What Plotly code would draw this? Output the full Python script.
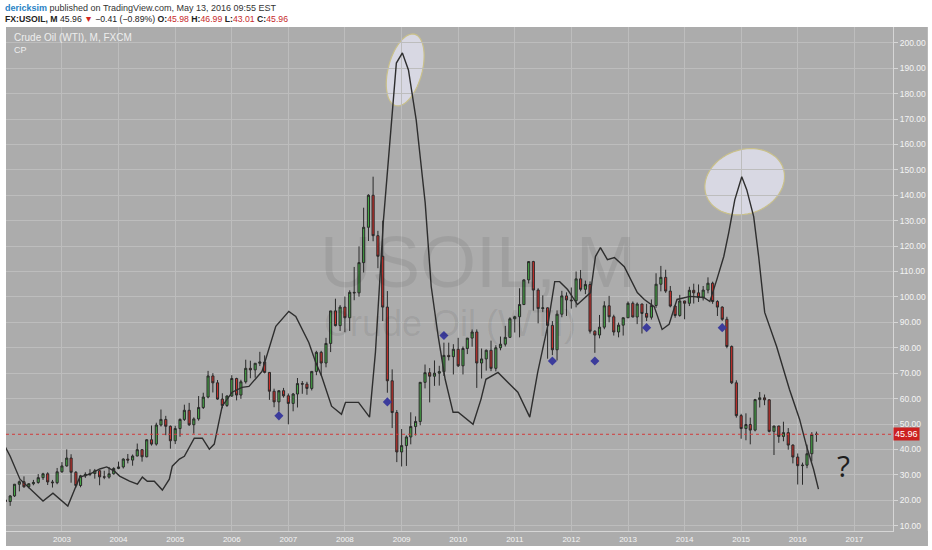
import numpy as np
import pandas as pd
import plotly.graph_objects as go

# monthly FX:USOIL candles, Jan 2002 .. May 2016
months = pd.date_range("2002-01-01", periods=173, freq="MS")

opens = [
    20.1, 19.5, 21.7, 26.3, 27.3, 25.3, 26.5, 27.0, 28.9, 30.4, 27.2, 26.9,
    31.2, 33.5, 36.6, 31.0, 25.8, 29.6, 30.2, 30.5, 31.6, 29.2, 29.1, 30.4,
    32.5, 33.1, 36.2, 35.8, 37.4, 39.9, 37.1, 43.8, 42.1, 49.6, 51.8, 49.1,
    43.4, 48.2, 51.8, 55.4, 49.7, 52.0, 56.5, 60.6, 68.9, 66.2, 59.8, 57.3,
    61.0, 67.9, 61.4, 66.6, 71.9, 71.3, 73.9, 74.4, 70.3, 62.9, 58.7, 63.1,
    61.1, 58.1, 61.8, 65.9, 65.7, 64.0, 70.7, 78.2, 74.0, 81.7, 94.5, 88.7,
    96.0, 91.8, 101.8, 101.6, 113.5, 127.4, 140.0, 124.1, 116.0, 96.0, 67.0, 54.5,
    39.0, 41.5, 44.9, 49.0, 51.0, 66.4, 70.2, 68.8, 70.0, 70.6, 77.0, 76.5,
    79.4, 72.9, 79.7, 83.8, 86.2, 74.0, 75.6, 79.0, 71.9, 80.0, 81.4, 84.1,
    91.4, 92.2, 97.0, 106.7, 113.9, 102.7, 95.4, 95.7, 88.8, 79.2, 93.2, 100.4,
    98.8, 98.5, 107.1, 103.0, 104.9, 86.5, 85.0, 88.1, 96.5, 92.2, 86.2, 88.9,
    91.8, 97.5, 92.1, 97.2, 93.5, 92.0, 96.6, 105.0, 107.7, 102.3, 96.4, 92.7,
    98.4, 97.5, 102.6, 101.6, 99.7, 102.7, 105.4, 98.2, 96.0, 91.2, 80.5, 66.2,
    53.3, 48.2, 49.8, 47.6, 59.6, 60.3, 59.5, 47.1, 49.2, 45.1, 46.6, 41.7,
    37.0, 33.6, 33.8, 38.3, 45.98,
]
highs = [
    21.0, 22.0, 26.4, 27.8, 29.4, 26.6, 28.0, 30.3, 30.8, 31.0, 28.0, 32.7,
    35.0, 40.0, 38.1, 31.5, 30.0, 31.0, 32.2, 32.3, 31.9, 31.6, 33.1, 33.0,
    35.2, 36.5, 38.2, 38.0, 42.3, 40.0, 44.0, 49.4, 50.5, 55.7, 53.2, 49.4,
    49.3, 52.2, 57.6, 58.3, 52.6, 61.0, 62.3, 70.9, 70.0, 67.3, 62.1, 61.3,
    69.2, 68.2, 67.4, 75.3, 74.9, 74.0, 78.4, 77.0, 70.4, 63.9, 62.5, 64.2,
    62.0, 62.2, 68.1, 66.9, 66.6, 70.8, 78.8, 78.8, 83.9, 94.5, 99.3, 96.8,
    100.1, 102.6, 111.8, 119.9, 135.1, 140.4, 147.3, 126.0, 130.0, 102.3, 71.5, 55.5,
    48.0, 45.5, 54.6, 53.0, 66.5, 73.4, 72.0, 75.0, 72.9, 82.0, 82.0, 81.4,
    83.9, 80.5, 83.8, 87.2, 87.2, 79.7, 79.3, 82.8, 81.0, 84.4, 88.6, 92.0,
    92.6, 103.4, 106.9, 114.0, 114.2, 103.4, 100.6, 95.9, 90.5, 94.7, 102.4, 101.8,
    103.7, 110.0, 110.6, 106.4, 106.1, 86.9, 92.9, 98.3, 100.4, 93.0, 89.9, 91.5,
    98.2, 98.2, 97.8, 97.3, 97.3, 99.0, 109.3, 112.2, 110.7, 104.3, 96.7, 100.8,
    98.5, 104.0, 105.2, 104.9, 104.3, 107.7, 106.0, 98.7, 96.3, 92.2, 80.9, 67.2,
    54.0, 54.2, 52.5, 59.9, 62.6, 61.6, 59.7, 49.3, 49.3, 50.9, 48.4, 42.0,
    38.4, 34.8, 41.9, 46.8, 46.99,
]
lows = [
    17.9, 17.8, 21.3, 23.5, 24.9, 24.7, 25.9, 26.5, 28.0, 26.0, 25.0, 26.3,
    30.8, 33.2, 26.9, 25.0, 25.1, 28.8, 29.5, 28.5, 25.9, 28.3, 28.5, 30.1,
    32.2, 32.5, 34.5, 33.6, 37.3, 35.2, 36.9, 41.5, 41.5, 49.0, 45.6, 40.3,
    42.1, 45.0, 51.2, 49.2, 46.2, 51.3, 55.9, 60.1, 62.4, 59.5, 56.2, 56.7,
    60.7, 59.3, 59.9, 65.9, 68.0, 68.2, 72.8, 69.9, 59.5, 56.6, 54.9, 60.4,
    49.9, 55.0, 56.5, 61.9, 61.5, 63.2, 69.2, 69.0, 72.3, 78.3, 88.4, 86.6,
    86.1, 86.6, 98.7, 100.1, 109.6, 122.0, 121.9, 111.3, 90.5, 62.3, 48.4, 35.0,
    33.3, 33.5, 42.0, 45.5, 49.5, 64.0, 58.5, 65.0, 65.1, 68.9, 75.0, 69.5,
    72.4, 69.5, 77.5, 80.4, 64.2, 67.9, 71.0, 70.8, 70.7, 79.0, 80.5, 84.0,
    86.0, 84.1, 96.8, 105.3, 94.6, 89.6, 94.0, 75.7, 77.1, 75.0, 92.0, 92.5,
    95.4, 95.9, 102.2, 101.1, 85.6, 78.0, 83.7, 87.3, 90.0, 84.8, 84.1, 84.8,
    91.7, 92.0, 89.3, 85.6, 90.5, 91.1, 95.7, 102.2, 101.6, 95.9, 91.8, 92.2,
    91.2, 96.4, 97.4, 98.0, 98.6, 101.4, 97.3, 92.5, 90.6, 79.8, 65.7, 52.5,
    44.2, 43.6, 42.0, 47.1, 56.5, 57.4, 46.7, 37.8, 42.6, 43.2, 39.9, 34.5,
    26.2, 26.1, 32.6, 35.3, 43.01,
]
closes = [
    19.5, 21.7, 26.3, 27.3, 25.3, 26.5, 27.0, 28.9, 30.4, 27.2, 26.9, 31.2,
    33.5, 36.6, 31.0, 25.8, 29.6, 30.2, 30.5, 31.6, 29.2, 29.1, 30.4, 32.5,
    33.1, 36.2, 35.8, 37.4, 39.9, 37.1, 43.8, 42.1, 49.6, 51.8, 49.1, 43.4,
    48.2, 51.8, 55.4, 49.7, 52.0, 56.5, 60.6, 68.9, 66.2, 59.8, 57.3, 61.0,
    67.9, 61.4, 66.6, 71.9, 71.3, 73.9, 74.4, 70.3, 62.9, 58.7, 63.1, 61.1,
    58.1, 61.8, 65.9, 65.7, 64.0, 70.7, 78.2, 74.0, 81.7, 94.5, 88.7, 96.0,
    91.8, 101.8, 101.6, 113.5, 127.4, 140.0, 124.1, 116.0, 96.0, 67.0, 54.5, 39.0,
    41.5, 44.9, 49.0, 51.0, 66.4, 70.2, 68.8, 70.0, 70.6, 77.0, 76.5, 79.4,
    72.9, 79.7, 83.8, 86.2, 74.0, 75.6, 79.0, 71.9, 80.0, 81.4, 84.1, 91.4,
    92.2, 97.0, 106.7, 113.9, 102.7, 95.4, 95.7, 88.8, 79.2, 93.2, 100.4, 98.8,
    98.5, 107.1, 103.0, 104.9, 86.5, 85.0, 88.1, 96.5, 92.2, 86.2, 88.9, 91.8,
    97.5, 92.1, 97.2, 93.5, 92.0, 96.6, 105.0, 107.7, 102.3, 96.4, 92.7, 98.4,
    97.5, 102.6, 101.6, 99.7, 102.7, 105.4, 98.2, 96.0, 91.2, 80.5, 66.2, 53.3,
    48.2, 49.8, 47.6, 59.6, 60.3, 59.5, 47.1, 49.2, 45.1, 46.6, 41.7, 37.0,
    33.6, 33.8, 38.3, 45.9, 45.96,
]

# CP indicator line (traced)
cp_dates = [
    "2002-01-01", "2002-02-01", "2002-04-05", "2002-06-09", "2002-09-01", "2002-11-04",
    "2003-02-08", "2003-03-25", "2003-04-26", "2003-06-30", "2003-09-02", "2003-10-17",
    "2003-12-07", "2004-01-08", "2004-03-12", "2004-05-02", "2004-06-03", "2004-07-05",
    "2004-08-19", "2004-10-10", "2004-11-24", "2004-12-13", "2005-01-28", "2005-03-01",
    "2005-05-04", "2005-06-25", "2005-08-09", "2005-09-10", "2005-10-31", "2006-01-03",
    "2006-03-08", "2006-04-22", "2006-07-15", "2006-10-12", "2007-01-04", "2007-02-18",
    "2007-05-13", "2007-06-27", "2007-08-04", "2007-10-07", "2007-12-10", "2008-01-05",
    "2008-03-29", "2008-06-08", "2008-07-16", "2008-09-06", "2008-10-27", "2008-11-28",
    "2009-01-06", "2009-02-14", "2009-04-05", "2009-06-02", "2009-07-11", "2009-08-25",
    "2009-10-09", "2009-11-29", "2010-01-01", "2010-04-07", "2010-05-28", "2010-06-29",
    "2010-09-15", "2011-01-21", "2011-04-08", "2011-05-29", "2011-08-01", "2011-09-16",
    "2011-10-18", "2011-12-08", "2012-02-10", "2012-05-04", "2012-06-05", "2012-07-07",
    "2012-08-21", "2012-10-05", "2012-12-08", "2013-03-02", "2013-04-16", "2013-06-19",
    "2013-08-09", "2013-09-23", "2013-11-13", "2014-02-05", "2014-05-05", "2014-06-13",
    "2014-07-28", "2014-09-11", "2014-10-13", "2014-11-21", "2015-01-05", "2015-02-06",
    "2015-03-23", "2015-04-24", "2015-06-02", "2015-08-18", "2015-11-09", "2016-01-13",
    "2016-02-27", "2016-04-12", "2016-05-14",
]
cp_values = [
    40.9, 37.3, 28.3, 24.4, 19.7, 22.8,
    17.7, 24.4, 29.1, 30.3, 32.3, 33.1,
    31.4, 29.5, 27.5, 26.3, 29.1, 27.5,
    27.5, 24.0, 28.3, 33.4, 36.2, 37.3,
    44.4, 44.4, 40.1, 42.1, 57.0, 62.5,
    64.4, 64.8, 70.7, 88.4, 94.3, 92.3,
    82.1, 74.2, 68.8, 57.0, 53.8, 58.5,
    58.5, 52.7, 78.2, 130.4, 169.7, 192.0,
    196.0, 189.3, 169.7, 137.1, 104.1, 84.5,
    67.6, 54.6, 54.6, 49.9, 59.7, 67.6,
    70.3, 62.5, 52.7, 70.3, 88.4, 106.0,
    106.0, 102.9, 97.0, 101.7, 115.9, 119.4,
    114.7, 115.5, 111.9, 101.7, 99.0, 96.2,
    87.2, 89.2, 99.0, 100.2, 99.8, 98.2,
    106.8, 115.9, 125.3, 138.2, 147.3, 142.2,
    131.6, 115.9, 93.9, 80.5, 63.6, 51.9,
    41.3, 32.3, 24.4,
]

# blue diamond signals
sig_dates = ["2006-11-01", "2008-10-01", "2009-10-01", "2011-09-01",
             "2012-06-01", "2013-05-01", "2014-09-01"]
sig_values = [53.2, 58.7, 84.8, 74.8, 74.8, 87.9, 87.9]

last_close = closes[-1]

# plot box in pixels (932x550 page)
L, R, T, B = 6, 35, 27, 18
PW, PH = 932 - L - R, 550 - T - B


def ellipse_path(cx, cy, a, b, deg):
    # pixel ellipse -> paper-coordinate svg path
    th = np.radians(deg)
    t = np.linspace(0, 2 * np.pi, 72)
    x = a * np.cos(t)
    y = b * np.sin(t)
    px = cx + x * np.cos(th) - y * np.sin(th)
    py = cy + x * np.sin(th) + y * np.cos(th)
    xp = (px - L) / PW
    yp = 1 - (py - T) / PH
    pts = [f"{u:.4f},{v:.4f}" for u, v in zip(xp, yp)]
    return "M " + " L ".join(pts) + " Z"


fig = go.Figure()
fig.add_trace(go.Candlestick(
    x=months, open=opens, high=highs, low=lows, close=closes,
    increasing=dict(fillcolor="#46a546", line=dict(color="#2a2a2a", width=1)),
    decreasing=dict(fillcolor="#c9302b", line=dict(color="#2a2a2a", width=1)),
    whiskerwidth=0, name="USOIL", hoverinfo="skip"))
fig.add_trace(go.Scatter(x=cp_dates, y=cp_values, mode="lines", name="CP",
                         line=dict(color="#2e2e2e", width=1.4)))
fig.add_trace(go.Scatter(x=sig_dates, y=sig_values, mode="markers", name="sig",
                         marker=dict(symbol="diamond", size=7, color="#3c3c9c")))

shapes = [
    # gray axis strips (right price scale, bottom time scale)
    dict(type="rect", xref="paper", yref="paper", x0=1, x1=1 + R / PW,
         y0=-15 / PH, y1=1, fillcolor="#acacac", line=dict(width=0), layer="below"),
    dict(type="rect", xref="paper", yref="paper", x0=0, x1=1 + R / PW,
         y0=-15 / PH, y1=0, fillcolor="#acacac", line=dict(width=0), layer="below"),
    # highlight ellipses
    dict(type="path", xref="paper", yref="paper", path=ellipse_path(407, 70, 17, 37, 15),
         fillcolor="rgba(218,218,230,0.95)", line=dict(color="#c9c08a", width=1.2), layer="below"),
    dict(type="path", xref="paper", yref="paper", path=ellipse_path(748, 182, 41, 32, -20),
         fillcolor="rgba(218,218,230,0.95)", line=dict(color="#c9c08a", width=1.2), layer="below"),
    # last price line
    dict(type="line", xref="paper", yref="y", x0=0, x1=1, y0=last_close, y1=last_close,
         line=dict(color="#d23a3a", width=1, dash="dot")),
]

annotations = [
    dict(text="USOIL, M", x=0.532, y=1 - (262 - T) / PH, xref="paper", yref="paper",
         showarrow=False, yanchor="middle",
         font=dict(family="Liberation Sans", size=72, color="rgba(0,0,0,0.075)")),
    dict(text="Crude Oil (WTI)", x=0.5, y=1 - (324 - T) / PH, xref="paper", yref="paper",
         showarrow=False, yanchor="middle",
         font=dict(family="Liberation Sans", size=36, color="rgba(0,0,0,0.075)")),
    dict(text="<span style='color:#2a82c5'><b>dericksim</b></span> published on TradingView.com, May 13, 2016 09:55 EST",
         x=-3 / PW, y=1 + 19 / PH, xref="paper", yref="paper", xanchor="left", yanchor="middle",
         showarrow=False, font=dict(family="Liberation Sans", size=9, color="#333333")),
    dict(text="<b>FX:USOIL, M</b> 45.96 <span style='color:#d0261f'>▼</span> −0.41 (−0.89%) "
              "<b>O:</b><span style='color:#c62a2a'>45.98</span> <b>H:</b><span style='color:#c62a2a'>46.99</span> "
              "<b>L:</b><span style='color:#c62a2a'>43.01</span> <b>C:</b><span style='color:#c62a2a'>45.96</span>",
         x=-3 / PW, y=1 + 8 / PH, xref="paper", yref="paper", xanchor="left", yanchor="middle",
         showarrow=False, font=dict(family="Liberation Sans", size=8.7, color="#222222")),
    dict(text="Crude Oil (WTI), M, FXCM", x=6 / PW, y=1 - 11 / PH, xref="paper", yref="paper",
         xanchor="left", yanchor="middle", showarrow=False,
         font=dict(family="Liberation Sans", size=10, color="#eeeeee")),
    dict(text="CP", x=6 / PW, y=1 - 23 / PH, xref="paper", yref="paper",
         xanchor="left", yanchor="middle", showarrow=False,
         font=dict(family="Liberation Sans", size=9, color="#eeeeee")),
    dict(text=f"{last_close:.2f}", x=1, y=last_close, xref="paper", yref="y",
         xanchor="left", yanchor="middle", showarrow=False, bgcolor="#cc2020",
         borderpad=1, font=dict(family="Liberation Sans", size=9, color="#ffffff")),
    dict(text="?", x="2016-10-25", y=33.5, xref="x", yref="y", showarrow=False,
         font=dict(family="Open Sans", size=30, color="#1e1e1e")),
]

fig.update_layout(
    width=932, height=550,
    margin=dict(l=L, r=R, t=T, b=B),
    paper_bgcolor="#ffffff", plot_bgcolor="#acacac",
    showlegend=False, hovermode=False,
    shapes=shapes, annotations=annotations,
    xaxis=dict(type="date", range=["2002-01-05", "2017-09-07"], rangeslider=dict(visible=False),
               tick0="2002-01-01", dtick="M12", tickformat="%Y",
               showgrid=True, gridcolor="#bdbdbd", gridwidth=1, zeroline=False,
               showline=True, linecolor="#d6d6d6", linewidth=1,
               ticks="", tickfont=dict(family="Liberation Sans", size=8, color="#f4f4f4")),
    yaxis=dict(side="right", range=[7.9, 206.2], dtick=10, tick0=0, tickformat=".2f",
               showgrid=True, gridcolor="#bdbdbd", gridwidth=1, zeroline=False,
               showline=True, linecolor="#d6d6d6", linewidth=1,
               ticks="outside", ticklen=4, tickcolor="#d6d6d6",
               tickfont=dict(family="Liberation Sans", size=8.5, color="#f4f4f4")),
)

# drop the default page margin so the 932x550 figure fills the window
fig.write_html("out.html", config={"displayModeBar": False},
               post_script="document.body.style.margin='0px';")
